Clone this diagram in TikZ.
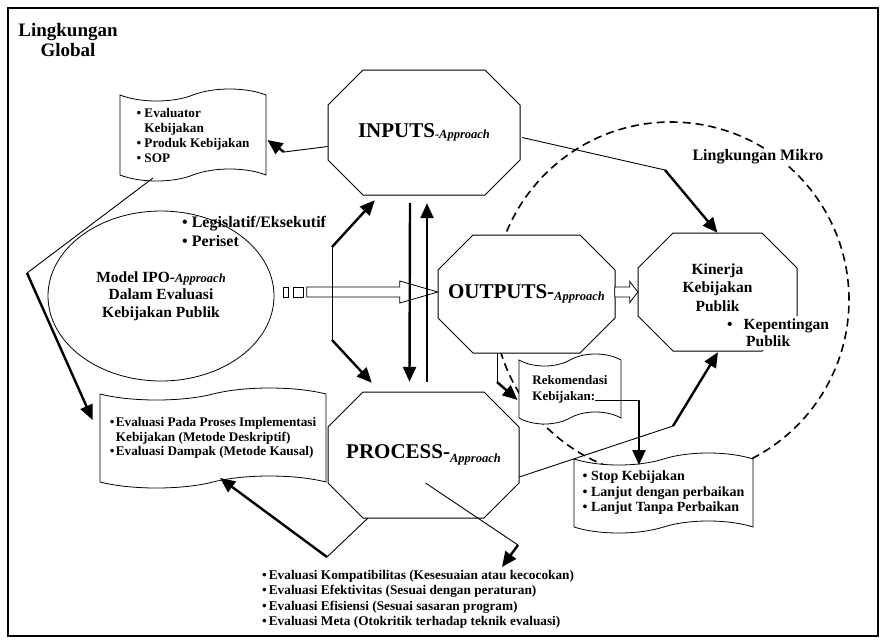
\documentclass[tikz,border=0pt]{standalone}
\usepackage{fontspec}
\setmainfont{Liberation Serif}
\usetikzlibrary{arrows.meta,shapes.geometric,shapes.symbols,calc}

\newcommand{\fsz}[2]{\fontsize{#1}{#2}\selectfont\bfseries}
\newcommand{\apr}[2][0pt]{\raisebox{-#1}{\fontsize{12.5}{12.5}\selectfont\bfseries\itshape #2}}

% octagon first, then the named node on top of it
\newcommand{\octnode}[7]{%
  \filldraw[octo] (#2-#4+35,#3-#5) -- (#2+#4-35,#3-#5) -- (#2+#4,#3-#5+35)
    -- (#2+#4,#3+#5-35) -- (#2+#4-35,#3+#5) -- (#2-#4+35,#3+#5)
    -- (#2-#4,#3+#5-35) -- (#2-#4,#3-#5+35) -- cycle;
  \node[octtext, font=#6, minimum width=2*#4, minimum height=2*#5] (#1) at (#2,#3) {#7};}

\begin{document}
\begin{tikzpicture}[x=1pt,y=-1pt,
    >={Triangle[length=15pt,width=13pt]},
    thinline/.style={line width=0.9pt},
    bigarrow/.style={line width=2.4pt,->},
    octo/.style={fill=white,draw=black,line width=1pt},
    octtext/.style={inner sep=0pt,align=center},
    sheet/.style={tape,draw,fill=white,line width=0.8pt,tape bend height=12pt,
                  inner sep=2pt,align=left},
    hollow/.style={draw,fill=white,line width=0.8pt},
    mikro/.style={line width=1.6pt,dash pattern=on 8pt off 5pt}]
\useasboundingbox (0,0) rectangle (881,641);
\draw[line width=1.3pt] (8,8) rectangle (878,636);

% lingkungan mikro
\draw[mikro] (671,300) circle [radius=178pt];

\node[font=\fsz{19}{20}, align=center, inner sep=0pt] (glob) at (68,40) {Lingkungan\\Global};
\node[fill=white, inner sep=1pt, font=\fsz{16}{18}] (mik) at (758,157) {Lingkungan Mikro};

% the four stages
\octnode{in}{424}{132.5}{96}{62.5}{\fsz{21}{24}}{INPUTS\apr[1pt]{-Approach}}
\octnode{out}{526.5}{294}{88.5}{59}{\fsz{21}{24}}{OUTPUTS-\apr[2pt]{Approach}}
\octnode{kin}{717.5}{292}{79.5}{59}{\fsz{15.5}{18.5}}{Kinerja\\Kebijakan\\Publik\\[-9pt]\mbox{}}
\octnode{pro}{423.5}{455}{95.5}{63}{\fsz{21}{24}}{PROCESS-\apr[4pt]{Approach}}

\node[fill=white, inner xsep=0pt, inner ysep=3pt, anchor=north west, text width=112pt,
      font=\fsz{15.5}{17}, align=left] (kep) at (727,316)
      {\textbullet\hspace{11pt}Kepentingan\\\hspace{19pt}Publik};

\node[ellipse, draw, line width=0.8pt, minimum width=226, minimum height=170, inner sep=0pt,
      font=\fsz{15.5}{17.5}, align=center] (ipo) at (161,296)
      {Model IPO-\apr{Approach}\\Dalam Evaluasi\\Kebijakan Publik};
\node[anchor=north west, inner sep=0pt, align=left, font=\fsz{16}{19}] (aktor) at (182,216)
      {\textbullet\ Legislatif/Eksekutif\\\textbullet\ Periset};

% sheets
\node[sheet, minimum width=146, minimum height=92, font=\fsz{13.2}{15}] (ev) at (193,135)
      {\textbullet\ Evaluator\\\phantom{\textbullet\ }Kebijakan\\\textbullet\ Produk Kebijakan\\\textbullet\ SOP};
\node[sheet, minimum width=226, minimum height=100, font=\fsz{13.2}{14.5}] (eva) at (213,438)
      {\textbullet\hspace{1.5pt}Evaluasi Pada Proses Implementasi\\\phantom{\textbullet\hspace{1.5pt}}Kebijakan (Metode Deskriptif)\\\textbullet\hspace{1.5pt}Evaluasi Dampak (Metode Kausal)};
\node[sheet, minimum width=102, minimum height=70, font=\fsz{13}{16}] (rek) at (570,389)
      {Rekomendasi\\Kebijakan:};
\node[sheet, minimum width=179, minimum height=80, font=\fsz{14}{15.5}] (stop) at (663.5,493)
      {\textbullet\ Stop Kebijakan\\\textbullet\ Lanjut dengan perbaikan\\\textbullet\ Lanjut Tanpa Perbaikan};

\node[anchor=north west, inner sep=0pt, align=left, font=\fsz{13.3}{15.5}] (list) at (262,570)
      {\textbullet\hspace{2pt}Evaluasi Kompatibilitas (Kesesuaian atau kecocokan)\\
       \textbullet\hspace{2pt}Evaluasi Efektivitas (Sesuai dengan peraturan)\\
       \textbullet\hspace{2pt}Evaluasi Efisiensi (Sesuai sasaran program)\\
       \textbullet\hspace{2pt}Evaluasi Meta (Otokritik terhadap teknik evaluasi)};

% hollow arrows
\draw[hollow] (283,287) rectangle (288,297);
\draw[hollow] (293,287) rectangle (303,297);
\draw[hollow] ($(out.west)+(0,-2)$) -- ++(-38,-11) -- ++(0,6) -- ++(-93,0) -- ++(0,10)
      -- ++(93,0) -- ++(0,6) -- cycle;
\draw[hollow] (kin.west) -- ++(-8,-10.5) -- ++(0,5.5) -- ++(-15,0) -- ++(0,10)
      -- ++(15,0) -- ++(0,5.5) -- cycle;

% bends of the connectors
\coordinate (b1) at (284,152);
\coordinate (b2) at (27,273);
\coordinate (b3) at (332,247);
\coordinate (b4) at (332,340);
\coordinate (b5) at (665,170);
\coordinate (b6) at (497,382);
\coordinate (kebEnd) at (595,400);
\coordinate (b7) at (639,400);
\coordinate (b8) at (673,426);
\coordinate (b9) at (327,557);
\coordinate (b10) at (518,545);

\draw[thinline] ($(in.west)+(0,14)$) -- (b1);
\draw[bigarrow] (b1) -- ($(ev.east)+(1,5)$);
\draw[thinline] ($(ev.center)+(-40,43)$) -- (b2);
\draw[bigarrow] (b2) -- ($(eva.west)+(-7,-18)$);
\draw[bigarrow] (b3) -- ($(in.south west)+(47,5)$);
\draw[thinline] (b3) -- (b4);
\draw[bigarrow] (b4) -- ($(pro.north west)+(44,-9)$);
\draw[bigarrow] ($(in.south)+(-14,8)$) -- ($(pro.north)+(-14,-10)$);
\draw[bigarrow] ($(pro.north)+(3.5,-10)$) -- ($(in.south)+(3,8)$);
\draw[thinline] ($(in.east)+(2,5)$) -- (b5);
\draw[bigarrow] (b5) -- (kin.north);
\draw[thinline] ($(out.south)+(-29.5,0)$) -- (b6);
\draw[bigarrow] (b6) -- ($(rek.west)+(-1,11)$);
\draw[thinline] (kebEnd) -- (b7);
\draw[bigarrow] (b7) -- ($(stop.center)+(-24.5,-28)$);
\draw[thinline] ($(pro.east)+(0,22)$) -- (b8);
\draw[bigarrow] (b8) -- ($(kin.south)+(0.5,1)$);
\draw[thinline] ($(pro.south west)+(40,0)$) -- (b9);
\draw[bigarrow] (b9) -- ($(eva.center)+(7,40)$);
\draw[thinline] ($(pro.center)+(2,28)$) -- (b10);
\draw[bigarrow] (b10) -- ($(list.north west)+(240,-3)$);
\end{tikzpicture}
\end{document}
